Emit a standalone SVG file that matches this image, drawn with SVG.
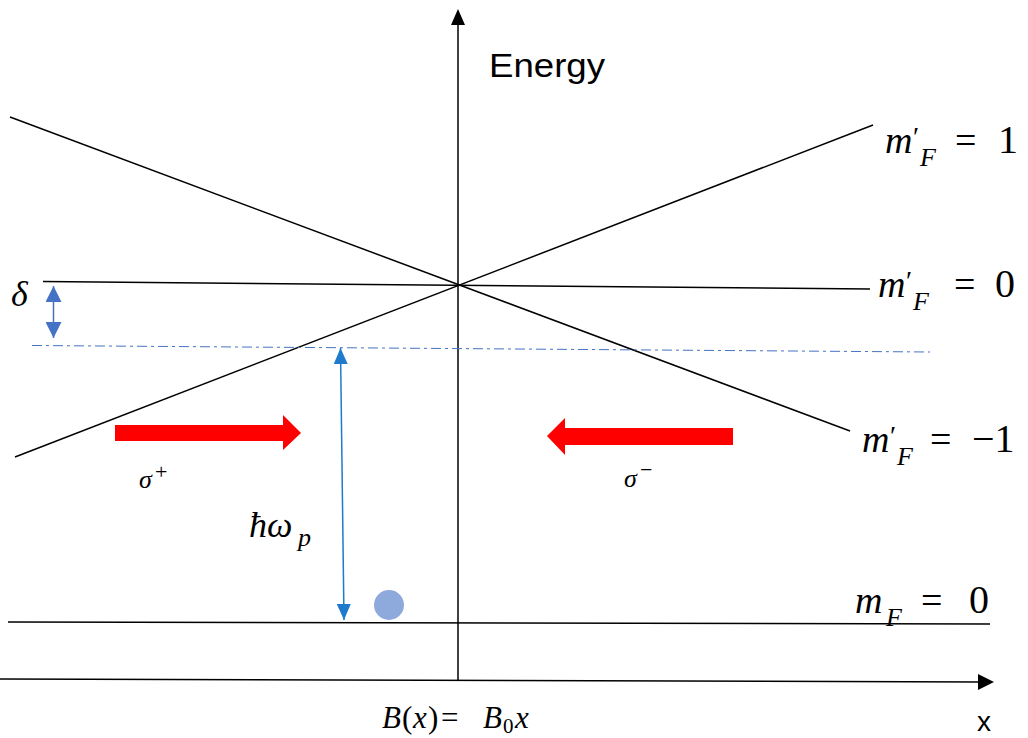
<svg xmlns="http://www.w3.org/2000/svg" width="1028" height="738" viewBox="0 0 1028 738">
<style>
.ln{stroke:#000;stroke-width:1.5;fill:none}
.bl{stroke:#4472C4;stroke-width:1.5;fill:none}
.m{font-family:"Liberation Serif",serif;font-style:italic;fill:#000}
.up{font-style:normal}
.s{font-family:"Liberation Sans",Arial,sans-serif;fill:#000}
.red{fill:#FF0000}
</style>
<defs>
<marker id="bb" viewBox="0 0 16 16" markerWidth="16" markerHeight="16" refX="16" refY="8" orient="auto-start-reverse" markerUnits="userSpaceOnUse">
<path d="M0,0 L16,8 L0,16 z" fill="#4472C4"/>
</marker>
<marker id="bc" viewBox="0 0 16 14" markerWidth="16" markerHeight="14" refX="16" refY="7" orient="auto-start-reverse" markerUnits="userSpaceOnUse">
<path d="M0,0 L16,7 L0,14 z" fill="#1F7ACC"/>
</marker>
</defs>
<g id="connectors">
<line class="ln" x1="0" y1="679" x2="980" y2="682"/>
<path d="M978,674 L994,682 L978,690 z" fill="#000"/>
<line class="ln" x1="458" y1="680" x2="458" y2="24"/>
<path d="M451,25 L458,9 L465,25 z" fill="#000"/>
<line class="ln" x1="15" y1="457" x2="873" y2="125"/>
<line class="ln" x1="10" y1="117" x2="850" y2="431"/>
<line class="ln" x1="43" y1="281.5" x2="870" y2="289"/>
<line class="ln" x1="8" y1="622" x2="990" y2="624"/>
<line x1="32" y1="345.5" x2="930" y2="352" stroke="#4472C4" stroke-width="1" stroke-dasharray="10,4,3,4"/>
<line class="bl" x1="53.5" y1="286" x2="53.5" y2="338" marker-start="url(#bb)" marker-end="url(#bb)"/>
<line x1="340.5" y1="348" x2="344" y2="620" stroke="#1F7ACC" stroke-width="1.5" marker-start="url(#bc)" marker-end="url(#bc)"/>
<path class="red" d="M115,425 L283,425 L283,415 L301,433 L283,450 L283,441 L115,441 z"/>
<path class="red" d="M733,428 L565,428 L565,418 L547,436 L565,455 L565,445 L733,445 z"/>
</g>
<g id="atom">
<circle cx="389" cy="605" r="15" fill="#8EA9DB"/>
</g>
<g id="energy-label">
<text class="s" x="489" y="77" font-size="34" textLength="116" lengthAdjust="spacingAndGlyphs">Energy</text>
</g>
<g id="x-label">
<text class="s" x="977" y="731" font-size="28">x</text>
</g>
<g id="mF1-label">
<text class="m" font-size="38"><tspan x="885" y="153">m</tspan><tspan class="up" x="913" y="146" font-size="28">′</tspan><tspan x="920" y="166" font-size="26">F</tspan><tspan class="up" x="955" y="153">=</tspan><tspan class="up" x="998" y="153" font-size="40">1</tspan></text>
</g>
<g id="mF0p-label">
<text class="m" font-size="38"><tspan x="878" y="297">m</tspan><tspan class="up" x="906" y="290" font-size="28">′</tspan><tspan x="913" y="310" font-size="26">F</tspan><tspan class="up" x="954" y="297">=</tspan><tspan class="up" x="995" y="297" font-size="40">0</tspan></text>
</g>
<g id="mFm1-label">
<text class="m" font-size="38"><tspan x="862" y="452">m</tspan><tspan class="up" x="890" y="445" font-size="28">′</tspan><tspan x="897" y="465" font-size="26">F</tspan><tspan class="up" x="930" y="452">=</tspan><tspan class="up" x="972" y="452" font-size="40">−1</tspan></text>
</g>
<g id="mF0-label">
<text class="m" font-size="38"><tspan x="855" y="613">m</tspan><tspan x="886" y="626" font-size="26">F</tspan><tspan class="up" x="921" y="613">=</tspan><tspan class="up" x="969" y="613" font-size="40">0</tspan></text>
</g>
<g id="delta-label">
<text class="m" x="11" y="306" font-size="36">δ</text>
</g>
<g id="sigma-plus">
<text class="m" font-size="26"><tspan x="139" y="488">σ</tspan><tspan class="up" x="155" y="479" font-size="22">+</tspan></text>
</g>
<g id="sigma-minus">
<text class="m" font-size="26"><tspan x="624" y="487">σ</tspan><tspan class="up" x="640" y="477" font-size="22">−</tspan></text>
</g>
<g id="hbar-omega">
<text class="m" font-size="36"><tspan x="249" y="537">ħω</tspan><tspan x="298" y="546" font-size="26">p</tspan></text>
</g>
<g id="field-label">
<text class="m" font-size="31"><tspan x="382" y="728">B</tspan><tspan class="up" x="402" y="728">(</tspan><tspan x="413" y="728">x</tspan><tspan class="up" x="428" y="728">)</tspan><tspan class="up" x="441" y="728">=</tspan><tspan x="483" y="728">B</tspan><tspan class="up" x="503" y="733" font-size="21">0</tspan><tspan x="515" y="728">x</tspan></text>
</g>
</svg>
